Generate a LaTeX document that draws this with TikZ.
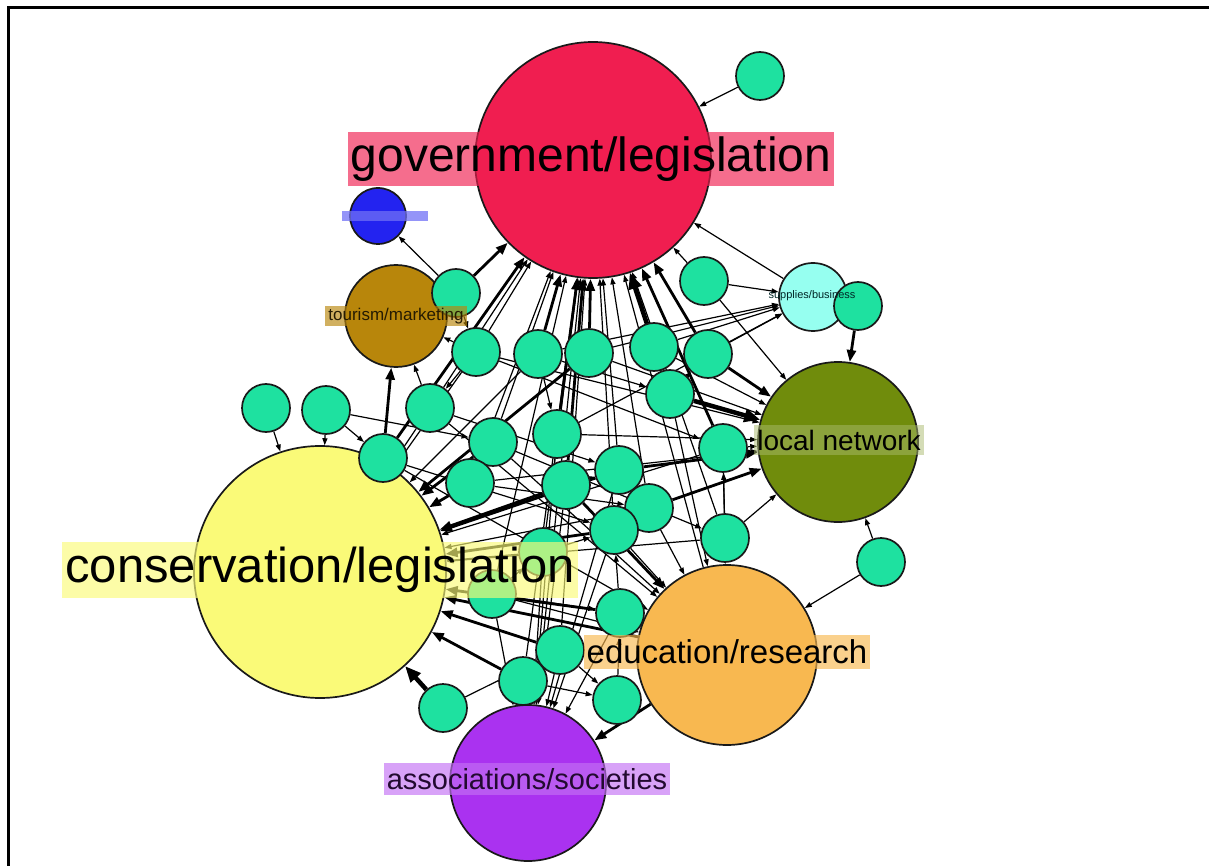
\documentclass[tikz,border=0pt]{standalone}
\usepackage{fontspec}
\setmainfont{Liberation Sans}
\usetikzlibrary{arrows.meta,backgrounds}

\definecolor{govred}{RGB}{240,30,80}
\definecolor{consyellow}{RGB}{250,250,120}
\definecolor{eduorange}{RGB}{248,184,80}
\definecolor{assocpurple}{RGB}{170,50,240}
\definecolor{netolive}{RGB}{112,140,12}
\definecolor{tourbrown}{RGB}{184,134,11}
\definecolor{nodeblue}{RGB}{35,35,240}
\definecolor{suppcyan}{RGB}{150,255,240}
\definecolor{actorgreen}{RGB}{30,225,160}

\begin{document}
\begin{tikzpicture}[x=1pt,y=-1pt,
    bignode/.style={circle,draw=black!90,line width=1.7pt,inner sep=0pt},
    actor/.style={circle,draw=black!90,line width=1.7pt,fill=actorgreen,
        minimum size=48pt,inner sep=0pt},
    tag/.style={fill opacity=0.65,text opacity=1,inner xsep=3pt,inner ysep=5pt},
    edge/.style={line width=1.2pt,-{Triangle[length=7pt,width=5pt]}},
    heavy/.style={line width=2.8pt,-{Triangle[length=12pt,width=9pt]}},
    heavier/.style={line width=4.5pt,-{Triangle[length=16pt,width=13pt]}}]

    \useasboundingbox (0,0) rectangle (1209,866);

    % grosse Knoten (Gruppen)
    \node[bignode,fill=govred,minimum size=236pt] (gov) at (593,160) {};
    \node[bignode,fill=consyellow,minimum size=252pt] (cons) at (320,572) {};
    \node[bignode,fill=eduorange,minimum size=180pt] (edu) at (727,655) {};
    \node[bignode,fill=assocpurple,minimum size=156pt] (assoc) at (528,783) {};
    \node[bignode,fill=netolive,minimum size=160pt] (locnet) at (838,442) {};
    \node[bignode,fill=tourbrown,minimum size=102pt] (tour) at (396,316) {};
    \node[bignode,fill=nodeblue,minimum size=56pt] (blue) at (378,216) {};
    \node[bignode,fill=suppcyan,minimum size=68pt] (supp) at (813,297) {};

    % kleine Knoten (Akteure)
    \foreach \n/\x/\y in {n1/760/76, n2/456/293, n3/704/281, n4/476/352,
        n5/538/354, n6/589/353, n7/654/347, n8/708/354, n9/670/394,
        n10/430/408, n11/266/408, n12/326/410, n13/383/458, n14/493/442,
        n15/557/434, n16/723/448, n17/470/483, n18/566/485, n19/619/470,
        n20/649/508, n21/614/530, n22/725/538, n23/881/562, n24/543/552,
        n25/492/594, n26/620/613, n27/560/650, n28/523/681, n29/443/708,
        n30/858/306, n31/617/700} {
        \node[actor] (\n) at (\x,\y) {};
    }

    % Kanten
    \begin{scope}[on background layer]
        \foreach \a/\b in {n1/gov, n3/gov, n4/gov, n7/gov, n10/gov, n14/gov,
            n17/gov, n19/gov, n20/gov, n21/gov, n22/gov, n24/gov, n25/gov,
            n27/gov, n28/gov, supp/gov, edu/gov, assoc/gov, n2/blue,
            n4/tour, n10/tour, n11/cons, n12/cons, n4/cons, n5/cons,
            n10/cons, n13/cons, n16/cons, n20/cons, n22/cons, n24/cons,
            n3/locnet, n4/locnet, n6/locnet, n7/locnet, n15/locnet,
            n16/locnet, n22/locnet, n23/locnet, n17/locnet, n3/supp,
            n5/supp, n6/supp, n7/supp, n8/supp, n15/supp, n9/edu, n16/edu,
            n20/edu, n21/edu, n23/edu, n25/edu, n14/edu, n10/edu, n13/edu,
            n18/assoc, n21/assoc, n24/assoc, n26/assoc, n27/assoc,
            n28/assoc, n25/assoc, n19/assoc, n15/assoc, n29/n27, n12/n13,
            n4/n10, n14/n17, n5/n15, n18/n19, n22/n16, n26/n21, n25/n24,
            n31/n26, n9/n8, n2/n4, n4/n16, n10/n19, n14/n22, n17/n20,
            n13/n21, n5/n9, n12/n14, n25/n26, n24/n21, n28/n31, n27/n31} {
            \draw[edge] (\a) -- (\b);
        }
        \foreach \a/\b in {n2/gov, n5/gov, n6/gov, n8/gov, n13/gov, n15/gov,
            n16/gov, n18/gov, n13/tour, n14/cons, n17/cons, n18/cons,
            n19/cons, n21/cons, n26/cons, n27/cons, n28/cons, n6/cons,
            edu/cons, n8/locnet, n19/locnet, n20/locnet, n30/locnet,
            n18/edu, edu/assoc} {
            \draw[heavy] (\a) -- (\b);
        }
        \foreach \a/\b in {n9/gov, n9/locnet, n29/cons} {
            \draw[heavier] (\a) -- (\b);
        }
    \end{scope}

    % Beschriftungen
    \node[tag,fill=govred,font=\fontsize{48}{50}\selectfont] (govlab)
        at (591,159) {government/legislation};
    \node[tag,fill=consyellow,font=\fontsize{49}{51}\selectfont] (conslab)
        at (320,570) {conservation/legislation};
    \node[tag,fill=eduorange,font=\fontsize{33}{35}\selectfont] (edulab)
        at (727,652) {education/research};
    \node[tag,fill=assocpurple!70,text=black!80!assocpurple,
        font=\fontsize{29}{31}\selectfont] (assoclab)
        at (527,779) {associations/societies};
    \node[tag,fill=netolive!60,fill opacity=0.5,font=\fontsize{28}{30}\selectfont]
        (locnetlab) at (839,440) {local network};
    \node[tag,fill=tourbrown,inner ysep=2pt,text=black!80!tourbrown,
        font=\fontsize{17}{19}\selectfont] (tourlab) at (396,316)
        {tourism/marketing};
    \node[font=\fontsize{11}{12}\selectfont,text=black!70!teal,inner sep=0pt]
        (supplab) at (812,296) {supplies/business};
    \node[fill=nodeblue!65,fill opacity=0.75,minimum width=86pt,
        minimum height=10pt,inner sep=0pt] (bluelab) at (385,216) {};

    % Rahmen
    \draw[line width=3pt] (8,866) -- (8,8) -- (1209,8);
\end{tikzpicture}
\end{document}
